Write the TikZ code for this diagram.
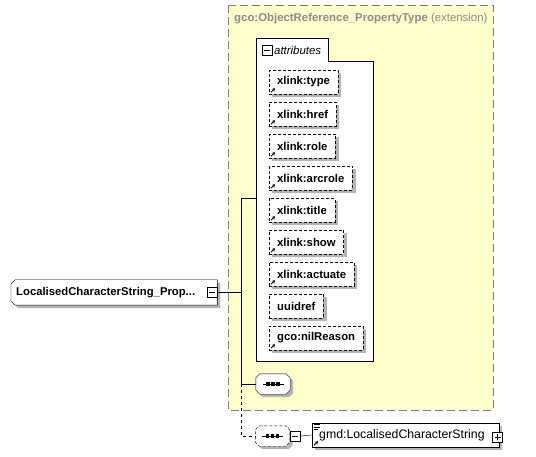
\documentclass[tikz,border=0pt]{standalone}
\usepackage{fontspec}
\setmainfont{Liberation Sans}
\usetikzlibrary{arrows.meta, positioning, calc}
\definecolor{bgyellow}{HTML}{FFFFCC}
\definecolor{frgray}{HTML}{808080}
\definecolor{ttlgray}{HTML}{8C8C8C}
\definecolor{shgray}{HTML}{B4B4B4}
\pgfdeclarelayer{frame}
\pgfdeclarelayer{shade}
\pgfsetlayers{frame,shade,main}

% reference mark (bottom-left arrow)
\newcommand{\refmark}[1]{%
  \draw[->, line width=0.9pt] ([shift={(2,-2)}]#1.south west) -- ++(4,-4);}
% flat shadow below a rectangular node
\newcommand{\shadowof}[1]{%
  \begin{pgfonlayer}{shade}
    \fill[shgray] ([shift={(3,3)}]#1.north west) rectangle ([shift={(3,3)}]#1.south east);
  \end{pgfonlayer}}
% outline of a node with cut corners: node, left cut, right cut, offset
\newcommand{\champath}[4]{%
  ([shift={(#2+#4,#4)}]#1.north west) -- ([shift={(-#3+#4,#4)}]#1.north east)
  -- ([shift={(#4,#3+#4)}]#1.north east) -- ([shift={(#4,-#3+#4)}]#1.south east)
  -- ([shift={(-#3+#4,#4)}]#1.south east) -- ([shift={(#2+#4,#4)}]#1.south west)
  -- ([shift={(#4,-#2+#4)}]#1.south west) -- ([shift={(#4,#2+#4)}]#1.north west) -- cycle}
\newcommand{\chambox}[4][]{%
  \begin{pgfonlayer}{shade}
    \fill[shgray] \champath{#2}{#3}{#4}{3};
    \draw[fill=white, #1] \champath{#2}{#3}{#4}{0};
  \end{pgfonlayer}}
% sequence compositor icon
\newcommand{\seqicon}[1]{%
  \draw (#1.center) +(-10.5,0) -- +(10.5,0);
  \foreach \dx in {-5,0,5}
    \fill ([xshift=\dx pt]#1.center) +(-1.75,-1.75) rectangle +(1.75,1.75);}

\begin{document}
\begin{tikzpicture}[
  x=1pt, y=-1pt, line width=1pt,
  >={Stealth[length=3pt, width=3.5pt]},
  attrbox/.style={draw, dash pattern=on 3pt off 2pt, fill=white,
    anchor=west, minimum height=24pt, inner xsep=8pt,
    font=\fontsize{11.3}{13}\selectfont\bfseries},
  pmbox/.style={draw, fill=white, minimum size=10pt, inner sep=0pt,
    path picture={\draw[line width=1pt]
      ([xshift=2pt]path picture bounding box.west) --
      ([xshift=-2pt]path picture bounding box.east);}},
  plusbox/.style={draw, fill=white, minimum size=10pt, inner sep=0pt,
    path picture={\draw[line width=1pt]
      ([xshift=2pt]path picture bounding box.west) --
      ([xshift=-2pt]path picture bounding box.east)
      ([yshift=-2pt]path picture bounding box.north) --
      ([yshift=2pt]path picture bounding box.south);}},
  seqnode/.style={minimum width=34pt, minimum height=20pt, inner sep=0pt},
  lcsnode/.style={anchor=west, minimum height=25pt,
    text width=196pt, inner xsep=5pt, align=left,
    font=\fontsize{11.3}{13}\selectfont\bfseries},
  elembox/.style={draw, fill=white, anchor=west, minimum height=24pt,
    text width=173pt, inner xsep=7pt, align=left,
    font=\fontsize{12.3}{14}\selectfont},
]
\useasboundingbox (0,0) rectangle (536,457);

% Extension frame
\begin{pgfonlayer}{frame}
  \draw[frgray, dash pattern=on 8pt off 4pt, fill=bgyellow] (228,5) rectangle (493,410);
  \draw[fill=white] (256,38) -- (328,38) -- (328,61) -- (373,61) -- (373,361) -- (256,361) -- cycle;
\end{pgfonlayer}
\node[anchor=west, inner sep=0pt, text=ttlgray, font=\fontsize{11.4}{13}\selectfont] (ttl) at (234,19)
  {\textbf{gco:ObjectReference\_PropertyType} (extension)};

% === Attributes group ===
\node[pmbox] (attm) at (267,50.5) {};
\node[anchor=west, inner sep=0pt, font=\fontsize{11.4}{13}\selectfont\itshape] (attl) at (274,50.5) {attributes};

\node[attrbox] (xtype) at (269,82) {xlink:type};
\node[attrbox] (xhref) at (269,114) {xlink:href};
\node[attrbox] (xrole) at (269,146) {xlink:role};
\node[attrbox] (xarcrole) at (269,178) {xlink:arcrole};
\node[attrbox] (xtitle) at (269,210) {xlink:title};
\node[attrbox] (xshow) at (269,242) {xlink:show};
\node[attrbox] (xactuate) at (269,274) {xlink:actuate};
\node[attrbox] (uuidref) at (269,306) {uuidref};
\node[attrbox] (nilreason) at (269,338) {gco:nilReason};
\shadowof{xtype}
\shadowof{xhref}
\shadowof{xrole}
\shadowof{xarcrole}
\shadowof{xtitle}
\shadowof{xshow}
\shadowof{xactuate}
\shadowof{uuidref}
\shadowof{nilreason}
\refmark{xtype}
\refmark{xhref}
\refmark{xrole}
\refmark{xarcrole}
\refmark{xtitle}
\refmark{xshow}
\refmark{xactuate}
\refmark{nilreason}

% === Element and sequences ===
\node[lcsnode] (lcs) at (11,292.5) {LocalisedCharacterString\_Prop...};
\chambox{lcs}{4}{0}
\node[pmbox] (lcsm) at (212,292.5) {};

\node[seqnode] (seq) at (273,384) {};
\chambox{seq}{4}{4}
\seqicon{seq}
\node[seqnode] (seqd) at (272.5,436) {};
\chambox[dash pattern=on 3pt off 2pt]{seqd}{4}{4}
\seqicon{seqd}
\node[pmbox] (seqdm) at (295,436) {};

\node[elembox] (gmd) at (312,435) {gmd:LocalisedCharacterString};
\shadowof{gmd}
\node[plusbox] (gmdp) at (497.5,437) {};
\draw[line width=0.8pt] ([shift={(2,2)}]gmd.north west) -- ++(6,0)
  ([shift={(2,4.5)}]gmd.north west) -- ++(6,0)
  ([shift={(2,7)}]gmd.north west) -- ++(4,0);
\refmark{gmd}

% Connectors
\coordinate (jattr) at (241,198);
\coordinate (jseq) at (241,384);
\coordinate (jopt) at (241,436);
\coordinate (attrin) at (256,198);
\draw (lcsm.east) -- (lcsm.east -| jattr);
\draw (jattr) -- (jseq);
\draw (jattr) -- (attrin);
\draw (jseq) -- (seq.west);
\draw[dash pattern=on 3pt off 3pt] (jseq) -- (jopt) -- (seqd.west);
\draw (seqdm.east) -- (gmd.west);

\end{tikzpicture}
\end{document}
